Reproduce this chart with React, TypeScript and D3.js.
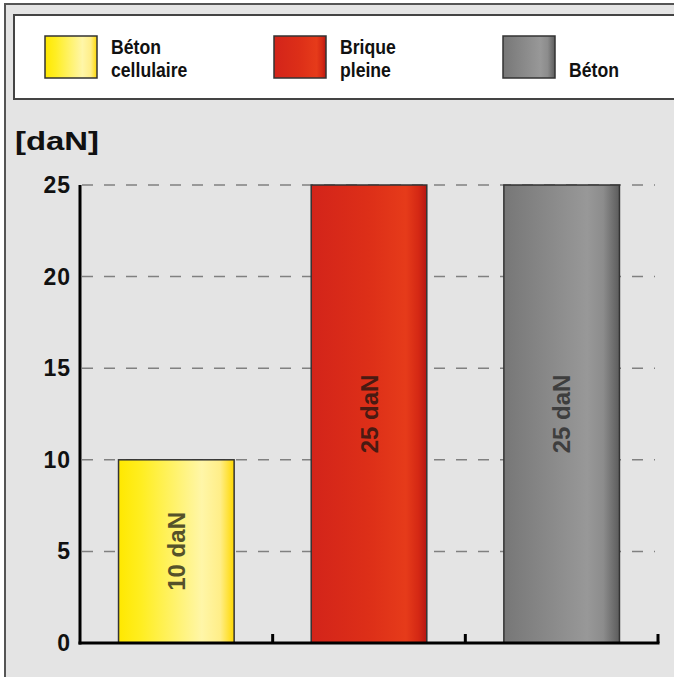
import React from 'react';
import * as d3 from 'd3';

const categories = ['Béton cellulaire', 'Brique pleine', 'Béton'];
const legendLines = [['Béton', 'cellulaire'], ['Brique', 'pleine'], ['', 'Béton']];
const values = [10, 25, 25];
const barLabels = ['10 daN', '25 daN', '25 daN'];
const yTicks = [0, 5, 10, 15, 20, 25];

const W = 674;
const H = 677;

const gradients = [
  { id: 'gYellow', stops: [[0, '#ffe800'], [0.2, '#ffee22'], [0.72, '#fff6a8'], [0.88, '#ffee88'], [1, '#ffd800']], label: '#55522a' },
  { id: 'gRed', stops: [[0, '#d3241a'], [0.5, '#dd2f18'], [0.82, '#e63b1a'], [0.93, '#d42814'], [1, '#b51612']], label: '#4a1a12' },
  { id: 'gGray', stops: [[0, '#777777'], [0.72, '#989898'], [0.86, '#8c8c8c'], [1, '#5c5c5c']], label: '#3e3e3e' },
];

const App: React.FC = () => {
  const x = d3.scaleBand<string>().domain(categories).range([80, 658]).padding(0);
  const y = d3.scaleLinear().domain([0, 25]).range([643, 185]);
  const legendX = d3.scaleBand<string>().domain(categories).range([45, 45 + 3 * 229]);
  const barW = x.bandwidth() * 0.6;
  const font = '"Liberation Sans", Arial, sans-serif';

  return (
    <svg width={W} height={H} style={{ position: 'absolute', left: 0, top: 0 }}>
      <defs>
        {gradients.map(g => (
          <linearGradient key={g.id} id={g.id} x1="0" x2="1" y1="0" y2="0">
            {g.stops.map(([o, c], i) => (
              <stop key={i} offset={o as number} stopColor={c as string} />
            ))}
          </linearGradient>
        ))}
      </defs>
      <rect x={0} y={0} width={W} height={H} fill="#ffffff" />
      {/* outer frame */}
      <rect x={5} y={4} width={W + 10} height={H + 10} fill="#e4e4e4" stroke="#555" strokeWidth={2} />
      {/* legend box */}
      <rect x={14} y={15} width={W + 10} height={84} fill="#ffffff" stroke="#444" strokeWidth={2} />
      {categories.map((c, i) => {
        const lx = legendX(c)!;
        return (
          <g key={c}>
            <rect x={lx} y={36} width={52} height={42} fill={`url(#${gradients[i].id})`} stroke="#333" strokeWidth={1.5} />
            {legendLines[i].map((t, j) => (
              <text
                key={j}
                transform={`translate(${lx + 66},${54 + j * 23}) scale(0.84,1)`}
                fontFamily={font}
                fontWeight="bold"
                fontSize={21}
                fill="#111"
              >
                {t}
              </text>
            ))}
          </g>
        );
      })}

      {/* unit */}
      <text x={15} y={150} fontFamily={font} fontWeight="bold" fontSize={26} fill="#111" textLength={84} lengthAdjust="spacingAndGlyphs">[daN]</text>

      {/* grid */}
      {yTicks.filter(t => t > 0).map(t => (
        <line key={t} x1={82} x2={655} y1={y(t)} y2={y(t)} stroke="#808080" strokeWidth={1.5} strokeDasharray="11,11" />
      ))}

      {/* bars */}
      {categories.map((c, i) => {
        const bx = x(c)! + (x.bandwidth() - barW) / 2;
        const by = y(values[i]);
        const bh = y(0) - by;
        const cx = bx + barW / 2;
        const cy = by + bh / 2;
        return (
          <g key={c}>
            <rect x={bx} y={by} width={barW} height={bh} fill={`url(#${gradients[i].id})`} stroke="#333" strokeWidth={1.5} />
            <text
              transform={`translate(${cx},${cy}) rotate(-90)`}
              textAnchor="middle"
              dominantBaseline="central"
              fontFamily={font}
              fontWeight="bold"
              fontSize={24}
              fill={gradients[i].label}
            >
              {barLabels[i]}
            </text>
          </g>
        );
      })}

      {/* y tick labels */}
      {yTicks.map(t => (
        <text key={t} x={71} y={y(t)} textAnchor="end" dominantBaseline="central" fontFamily={font} fontWeight="bold" fontSize={23} letterSpacing={1} fill="#111">
          {t}
        </text>
      ))}

      {/* axes */}
      <line x1={80} x2={80} y1={y(25)} y2={y(0) + 1.5} stroke="#000" strokeWidth={3} />
      <line x1={78.5} x2={659.5} y1={y(0)} y2={y(0)} stroke="#000" strokeWidth={3} />
      {categories.map(c => (
        <line key={c} x1={x(c)! + x.bandwidth()} x2={x(c)! + x.bandwidth()} y1={y(0)} y2={y(0) - 9} stroke="#000" strokeWidth={3} />
      ))}
    </svg>
  );
};

export default App;
